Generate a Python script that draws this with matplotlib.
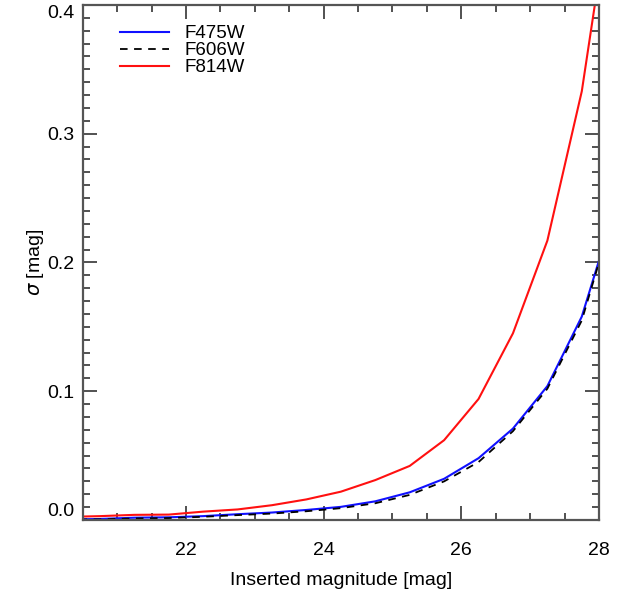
import numpy as np
import matplotlib.pyplot as plt
from matplotlib.ticker import MultipleLocator

plt.rcParams["font.family"] = ["Liberation Sans", "DejaVu Sans"]
plt.rcParams["mathtext.fontset"] = "dejavusans"

# inserted magnitudes (bin centres) and photometric error per filter
mag = [20.25, 20.75, 21.25, 21.75, 22.25, 22.75, 23.25, 23.75,
       24.25, 24.75, 25.25, 25.75, 26.25, 26.75, 27.25, 27.75, 28.25]
sig_f475w = [0.0004, 0.0008, 0.0018, 0.0021, 0.003, 0.0045, 0.0058, 0.0078,
             0.0102, 0.0145, 0.0215, 0.032, 0.048, 0.071, 0.104, 0.158, 0.245]
sig_f606w = [0.0003, 0.0005, 0.0012, 0.0015, 0.0025, 0.0038, 0.005, 0.0068,
             0.0092, 0.013, 0.0195, 0.030, 0.045, 0.069, 0.102, 0.155, 0.245]
sig_f814w = [0.0024, 0.003, 0.004, 0.0042, 0.0065, 0.0082, 0.0115, 0.016,
             0.022, 0.031, 0.042, 0.062, 0.094, 0.145, 0.217, 0.333, 0.51]

fig = plt.figure(figsize=(6.19, 5.93), dpi=100)
ax = fig.add_axes([0.1336, 0.1231, 0.8341, 0.8685])

ax.plot(mag, sig_f475w, color="#1010ff", lw=1.5, label="F475W")
ax.plot(mag, sig_f606w, color="black", lw=1.3, ls=(0, (4.2, 3.6)), label="F606W")
ax.plot(mag, sig_f814w, color="#ff1010", lw=1.5, label="F814W")

ax.set_xlim(20.5, 28)
ax.set_ylim(0.0, 0.4)
ax.xaxis.set_major_locator(MultipleLocator(2))
ax.xaxis.set_minor_locator(MultipleLocator(0.5))
ax.yaxis.set_minor_locator(MultipleLocator(0.01))
ax.set_yticks([0.0, 0.1, 0.2, 0.3, 0.4])
ax.set_yticklabels(["0.0", "0.1", "0.2", "0.3", "0.4"])

ax.tick_params(which="both", direction="in", top=True, right=True,
               color="#333333", labelsize=14)
ax.tick_params(which="major", length=10, width=1.2)
ax.tick_params(which="minor", length=5, width=1.2)
ax.tick_params(axis="x", which="major", pad=16)
ax.tick_params(axis="y", which="major", pad=6)

for s in ax.spines.values():
    s.set_color("#555555")
    s.set_linewidth(1.6)

ylabs = ax.get_yticklabels()
ylabs[0].set_verticalalignment("bottom")
ylabs[-1].set_verticalalignment("top")

ax.set_xlabel("Inserted magnitude [mag]", fontsize=14, labelpad=9)
ax.set_ylabel(r"$\sigma$ [mag]", fontsize=14, labelpad=1)

ax.legend(loc="upper left", bbox_to_anchor=(0.072, 0.961), frameon=False,
          fontsize=13.5, handlelength=2.6, handletextpad=0.85,
          labelspacing=0.0, borderaxespad=0, borderpad=0)

fig.savefig("out.png", dpi=100)
